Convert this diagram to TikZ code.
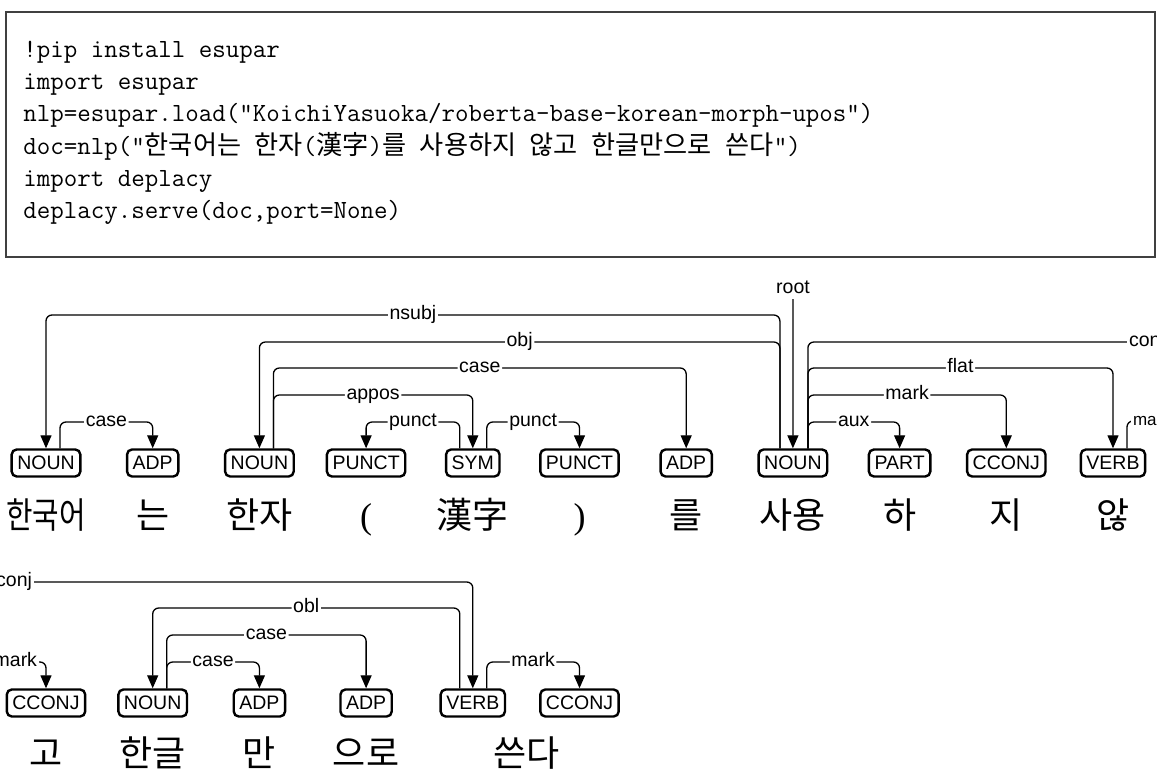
\documentclass[tikz,border=0pt]{standalone}
\usepackage{fontspec}
\usepackage{graphicx}
\setmainfont{Liberation Serif}
\setsansfont{Liberation Sans}
\setmonofont{Latin Modern Mono}
\newfontfamily\krfont{Noto Sans CJK KR}
\usetikzlibrary{arrows.meta, calc}

\newcommand{\wlp}{{\rmfamily(}}
\newcommand{\wrp}{{\rmfamily)}}
\newcommand{\kr}[1]{{\krfont #1}}
\newcommand{\squeeze}[1]{\scalebox{0.8}[1]{#1}}
% head, offset, dependent, level, label
\newcommand{\deparc}[5]{%
  \draw[arc,->] ($(#1.north)+(#2,0)$) coordinate (s) -- (s |- 0,#4)
    -- (#3.north |- 0,#4) node[midway,lbl] {#5} -- (#3.north);}

\tikzset{
  tag/.style={draw, line width=1.2pt, rounded corners=2.5pt, inner xsep=2.8pt,
    inner ysep=0pt, minimum height=13.5pt, text height=7pt, text depth=0pt,
    font=\sffamily\fontsize{9.75}{10}\selectfont},
  word/.style={anchor=base, inner sep=0pt, font=\krfont\fontsize{18}{20}\selectfont},
  lbl/.style={fill=white, inner xsep=0.8pt, inner ysep=0.4pt, text height=7pt,
    text depth=2pt, font=\sffamily\fontsize{9.75}{10}\selectfont},
  arc/.style={line width=0.65pt, rounded corners=3pt},
  code/.style={anchor=base west, inner sep=0pt, font=\ttfamily\fontsize{13.1}{16}\selectfont}
}

\begin{document}
\begin{tikzpicture}[x=0.5pt, y=-0.5pt, >={Triangle[length=6.5pt,width=5.5pt]}]
  \useasboundingbox (0,0) rectangle (1157,769);
  \clip (0,0) rectangle (1157,769);

  % code cell
  \draw[black!75, line width=0.6pt] (6,12) rectangle (1155,257);
  \node[code] (c1) at (23,57.5) {!pip install esupar};
  \node[code] (c2) at (23,89.7) {import esupar};
  \node[code] (c3) at (23,121.9) {nlp=esupar.load("KoichiYasuoka/roberta-base-korean-morph-upos")};
  \node[code] (c4) at (23,154.1) {doc=nlp("\kr{한국어는} \kr{한자}(\kr{漢字})\kr{를} \kr{사용하지} \kr{않고} \kr{한글만으로} \kr{쓴다}")};
  \node[code] (c5) at (23,186.3) {import deplacy};
  \node[code] (c6) at (23,218.5) {deplacy.serve(doc,port=None)};

  % tags and words
  \foreach \p [count=\i from 0] in {NOUN,ADP,NOUN,PUNCT,SYM,PUNCT,ADP,NOUN,PART,CCONJ,VERB}
    \node[tag] (t\i) at ({46+106.7*\i},463) {\p};
  \foreach \p [count=\i from 11] in {CCONJ,NOUN,ADP,ADP,VERB,CCONJ}
    \node[tag] (t\i) at ({46+106.7*(\i-11)},703) {\p};
  \foreach \w [count=\i from 0] in {\squeeze{한국어},는,한자,\wlp,漢字,\wrp,를,사용,하,지,않}
    \node[word] (w\i) at ({46+106.7*\i},529) {\w};
  \foreach \w [count=\i from 11] in {고,한글,만,으로}
    \node[word] (w\i) at ({46+106.7*(\i-11)},767) {\w};
  \node[word] (w15) at ({46+106.7*4.5},767) {쓴다};

  % first line
  \deparc{t0}{14}{t1}{422}{case}
  \deparc{t7}{-13}{t0}{315}{nsubj}
  \deparc{t7}{-13}{t2}{342}{obj}
  \deparc{t2}{14}{t6}{368}{case}
  \deparc{t2}{14}{t4}{395}{appos}
  \deparc{t4}{-13}{t3}{422}{punct}
  \deparc{t4}{14}{t5}{422}{punct}
  \deparc{t7}{15}{t10}{368}{flat}
  \deparc{t7}{15}{t9}{395}{mark}
  \deparc{t7}{15}{t8}{422}{aux}
  \node[lbl] (root) at (793,289) {root};
  \draw[arc,->] (root.south) -- (t7.north);
  \coordinate (cx1) at (1200,342);
  \coordinate (cx2) at (1200,421);
  \draw[arc] ($(t7.north)+(15,0)$) |- (cx1);
  \draw[arc] ($(t10.north)+(14,0)$) |- (cx2);
  \node[lbl, anchor=west] (lc1) at (1127,342) {conj};
  \node[lbl, anchor=west, font=\sffamily\fontsize{8.5}{9}\selectfont] (lm1) at (1131,421) {mark};

  % second line
  \node[lbl, anchor=east] (lc2) at (34,582) {conj};
  \node[lbl, anchor=east] (lm2) at (39,662) {mark};
  \draw[arc,->] (lc2.east) -| (t15.north);
  \draw[arc,->] (lm2.east) -| (t11.north);
  \deparc{t15}{-13}{t12}{608}{obl}
  \deparc{t12}{14}{t14}{635}{case}
  \deparc{t12}{14}{t13}{662}{case}
  \deparc{t15}{14}{t16}{662}{mark}
\end{tikzpicture}
\end{document}
